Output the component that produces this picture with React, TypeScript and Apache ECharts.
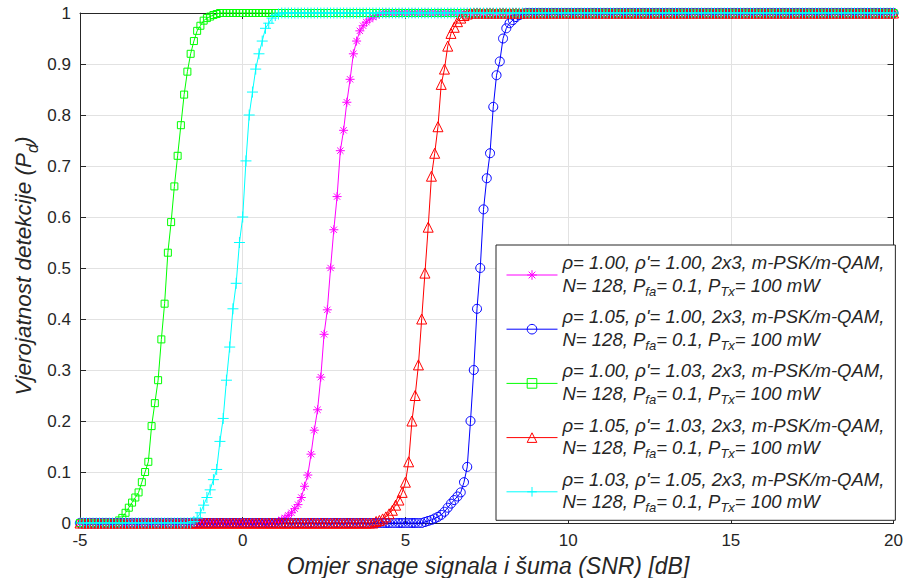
import React, { useEffect, useRef } from "react";
import * as echarts from "echarts";

// SNR sampling grid (dB)
const snrStart = -5;
const snrStep = 0.1;

// Detection probability per curve, one value per 0.1 dB from -5 to 20 dB (rows = 1 dB)
const pdMagenta = [
  0, 0, 0, 0, 0, 0, 0, 0, 0, 0,
  0, 0, 0, 0, 0, 0, 0, 0, 0, 0,
  0, 0, 0, 0, 0, 0, 0, 0, 0, 0,
  0, 0, 0, 0, 0, 0, 0, 0, 0, 0,
  0, 0, 0, 0, 0, 0, 0, 0, 0, 0,
  0, 0, 0, 0, 0, 0, 0, 0, 0, 0,
  0, 0.003, 0.006, 0.01, 0.015, 0.02, 0.028, 0.036, 0.05, 0.072,
  0.094, 0.135, 0.182, 0.222, 0.286, 0.37, 0.418, 0.5, 0.575, 0.64,
  0.73, 0.77, 0.825, 0.87, 0.92, 0.945, 0.965, 0.975, 0.982, 0.988,
  0.992, 0.995, 0.998, 1, 1, 1, 1, 1, 1, 1,
  1, 1, 1, 1, 1, 1, 1, 1, 1, 1,
  1, 1, 1, 1, 1, 1, 1, 1, 1, 1,
  1, 1, 1, 1, 1, 1, 1, 1, 1, 1,
  1, 1, 1, 1, 1, 1, 1, 1, 1, 1,
  1, 1, 1, 1, 1, 1, 1, 1, 1, 1,
  1, 1, 1, 1, 1, 1, 1, 1, 1, 1,
  1, 1, 1, 1, 1, 1, 1, 1, 1, 1,
  1, 1, 1, 1, 1, 1, 1, 1, 1, 1,
  1, 1, 1, 1, 1, 1, 1, 1, 1, 1,
  1, 1, 1, 1, 1, 1, 1, 1, 1, 1,
  1, 1, 1, 1, 1, 1, 1, 1, 1, 1,
  1, 1, 1, 1, 1, 1, 1, 1, 1, 1,
  1, 1, 1, 1, 1, 1, 1, 1, 1, 1,
  1, 1, 1, 1, 1, 1, 1, 1, 1, 1,
  1, 1, 1, 1, 1, 1, 1, 1, 1, 1,
  1,
];

const pdBlue = [
  0, 0, 0, 0, 0, 0, 0, 0, 0, 0,
  0, 0, 0, 0, 0, 0, 0, 0, 0, 0,
  0, 0, 0, 0, 0, 0, 0, 0, 0, 0,
  0, 0, 0, 0, 0, 0, 0, 0, 0, 0,
  0, 0, 0, 0, 0, 0, 0, 0, 0, 0,
  0, 0, 0, 0, 0, 0, 0, 0, 0, 0,
  0, 0, 0, 0, 0, 0, 0, 0, 0, 0,
  0, 0, 0, 0, 0, 0, 0, 0, 0, 0,
  0, 0, 0, 0, 0, 0, 0, 0, 0, 0,
  0, 0, 0, 0, 0, 0, 0, 0, 0, 0,
  0, 0, 0, 0, 0, 0, 0.002, 0.004, 0.006, 0.009,
  0.012, 0.016, 0.022, 0.03, 0.038, 0.045, 0.052, 0.06, 0.08, 0.11,
  0.2, 0.3, 0.42, 0.5, 0.615, 0.676, 0.725, 0.816, 0.878, 0.905,
  0.95, 0.97, 0.98, 0.986, 0.992, 0.996, 0.998, 1, 1, 1,
  1, 1, 1, 1, 1, 1, 1, 1, 1, 1,
  1, 1, 1, 1, 1, 1, 1, 1, 1, 1,
  1, 1, 1, 1, 1, 1, 1, 1, 1, 1,
  1, 1, 1, 1, 1, 1, 1, 1, 1, 1,
  1, 1, 1, 1, 1, 1, 1, 1, 1, 1,
  1, 1, 1, 1, 1, 1, 1, 1, 1, 1,
  1, 1, 1, 1, 1, 1, 1, 1, 1, 1,
  1, 1, 1, 1, 1, 1, 1, 1, 1, 1,
  1, 1, 1, 1, 1, 1, 1, 1, 1, 1,
  1, 1, 1, 1, 1, 1, 1, 1, 1, 1,
  1, 1, 1, 1, 1, 1, 1, 1, 1, 1,
  1,
];

const pdGreen = [
  0, 0, 0, 0, 0, 0, 0, 0, 0, 0,
  0, 0, 0.005, 0.01, 0.02, 0.03, 0.04, 0.05, 0.06, 0.08,
  0.1, 0.12, 0.19, 0.235, 0.28, 0.36, 0.43, 0.53, 0.59, 0.66,
  0.72, 0.78, 0.84, 0.885, 0.92, 0.945, 0.965, 0.975, 0.985, 0.99,
  0.993, 0.996, 0.998, 1, 1, 1, 1, 1, 1, 1,
  1, 1, 1, 1, 1, 1, 1, 1, 1, 1,
  1, 1, 1, 1, 1, 1, 1, 1, 1, 1,
  1, 1, 1, 1, 1, 1, 1, 1, 1, 1,
  1, 1, 1, 1, 1, 1, 1, 1, 1, 1,
  1, 1, 1, 1, 1, 1, 1, 1, 1, 1,
  1, 1, 1, 1, 1, 1, 1, 1, 1, 1,
  1, 1, 1, 1, 1, 1, 1, 1, 1, 1,
  1, 1, 1, 1, 1, 1, 1, 1, 1, 1,
  1, 1, 1, 1, 1, 1, 1, 1, 1, 1,
  1, 1, 1, 1, 1, 1, 1, 1, 1, 1,
  1, 1, 1, 1, 1, 1, 1, 1, 1, 1,
  1, 1, 1, 1, 1, 1, 1, 1, 1, 1,
  1, 1, 1, 1, 1, 1, 1, 1, 1, 1,
  1, 1, 1, 1, 1, 1, 1, 1, 1, 1,
  1, 1, 1, 1, 1, 1, 1, 1, 1, 1,
  1, 1, 1, 1, 1, 1, 1, 1, 1, 1,
  1, 1, 1, 1, 1, 1, 1, 1, 1, 1,
  1, 1, 1, 1, 1, 1, 1, 1, 1, 1,
  1, 1, 1, 1, 1, 1, 1, 1, 1, 1,
  1, 1, 1, 1, 1, 1, 1, 1, 1, 1,
  1,
];

const pdRed = [
  0, 0, 0, 0, 0, 0, 0, 0, 0, 0,
  0, 0, 0, 0, 0, 0, 0, 0, 0, 0,
  0, 0, 0, 0, 0, 0, 0, 0, 0, 0,
  0, 0, 0, 0, 0, 0, 0, 0, 0, 0,
  0, 0, 0, 0, 0, 0, 0, 0, 0, 0,
  0, 0, 0, 0, 0, 0, 0, 0, 0, 0,
  0, 0, 0, 0, 0, 0, 0, 0, 0, 0,
  0, 0, 0, 0, 0, 0, 0, 0, 0, 0,
  0, 0, 0, 0, 0, 0, 0, 0, 0, 0,
  0, 0.003, 0.005, 0.008, 0.012, 0.018, 0.025, 0.035, 0.045, 0.06,
  0.08, 0.12, 0.2, 0.25, 0.31, 0.4, 0.49, 0.58, 0.68, 0.725,
  0.777, 0.86, 0.89, 0.935, 0.96, 0.972, 0.983, 0.99, 0.995, 0.998,
  1, 1, 1, 1, 1, 1, 1, 1, 1, 1,
  1, 1, 1, 1, 1, 1, 1, 1, 1, 1,
  1, 1, 1, 1, 1, 1, 1, 1, 1, 1,
  1, 1, 1, 1, 1, 1, 1, 1, 1, 1,
  1, 1, 1, 1, 1, 1, 1, 1, 1, 1,
  1, 1, 1, 1, 1, 1, 1, 1, 1, 1,
  1, 1, 1, 1, 1, 1, 1, 1, 1, 1,
  1, 1, 1, 1, 1, 1, 1, 1, 1, 1,
  1, 1, 1, 1, 1, 1, 1, 1, 1, 1,
  1, 1, 1, 1, 1, 1, 1, 1, 1, 1,
  1, 1, 1, 1, 1, 1, 1, 1, 1, 1,
  1, 1, 1, 1, 1, 1, 1, 1, 1, 1,
  1, 1, 1, 1, 1, 1, 1, 1, 1, 1,
  1,
];

const pdCyan = [
  0, 0, 0, 0, 0, 0, 0, 0, 0, 0,
  0, 0, 0, 0, 0, 0, 0, 0, 0, 0,
  0, 0, 0, 0, 0, 0, 0, 0, 0, 0,
  0, 0, 0, 0, 0, 0.003, 0.01, 0.02, 0.035, 0.05,
  0.065, 0.085, 0.105, 0.16, 0.205, 0.28, 0.345, 0.42, 0.47, 0.55,
  0.6, 0.71, 0.8, 0.845, 0.89, 0.92, 0.945, 0.97, 0.98, 0.99,
  0.995, 0.998, 1, 1, 1, 1, 1, 1, 1, 1,
  1, 1, 1, 1, 1, 1, 1, 1, 1, 1,
  1, 1, 1, 1, 1, 1, 1, 1, 1, 1,
  1, 1, 1, 1, 1, 1, 1, 1, 1, 1,
  1, 1, 1, 1, 1, 1, 1, 1, 1, 1,
  1, 1, 1, 1, 1, 1, 1, 1, 1, 1,
  1, 1, 1, 1, 1, 1, 1, 1, 1, 1,
  1, 1, 1, 1, 1, 1, 1, 1, 1, 1,
  1, 1, 1, 1, 1, 1, 1, 1, 1, 1,
  1, 1, 1, 1, 1, 1, 1, 1, 1, 1,
  1, 1, 1, 1, 1, 1, 1, 1, 1, 1,
  1, 1, 1, 1, 1, 1, 1, 1, 1, 1,
  1, 1, 1, 1, 1, 1, 1, 1, 1, 1,
  1, 1, 1, 1, 1, 1, 1, 1, 1, 1,
  1, 1, 1, 1, 1, 1, 1, 1, 1, 1,
  1, 1, 1, 1, 1, 1, 1, 1, 1, 1,
  1, 1, 1, 1, 1, 1, 1, 1, 1, 1,
  1, 1, 1, 1, 1, 1, 1, 1, 1, 1,
  1, 1, 1, 1, 1, 1, 1, 1, 1, 1,
  1,
];

const rhoValues = ["1.00", "1.05", "1.00", "1.05", "1.03"];
const rhoPrimeValues = ["1.00", "1.00", "1.03", "1.03", "1.05"];
const seriesValues = [pdMagenta, pdBlue, pdGreen, pdRed, pdCyan];
const seriesColors = ["#ff00ff", "#0000ff", "#00ff00", "#ff0000", "#00ffff"];
const ASTERISK = "path://M0,-1L0,1M-1,0L1,0M-0.7,-0.7L0.7,0.7M-0.7,0.7L0.7,-0.7";
const PLUS = "path://M0,-1L0,1M-1,0L1,0";
const seriesSymbols = [ASTERISK, "circle", "rect", "triangle", PLUS];
const seriesSymbolSizes = [9, 9, 7, 10, 11];

const xMin = -5;
const xMax = 20;
const xInterval = 5;
const yMin = 0;
const yMax = 1;
const yInterval = 0.1;

const xTitle = "Omjer snage signala i šuma (SNR) [dB]";
const FONT = "'Liberation Sans', Arial, Helvetica, sans-serif";
const INK = "#262626";

const seriesNames = rhoValues.map(
  (r, i) => `ρ= ${r}, ρ'= ${rhoPrimeValues[i]}, 2x3, m-PSK/m-QAM, N= 128, Pfa= 0.1, PTx= 100 mW`
);

export default function App() {
  const ref = useRef<HTMLDivElement>(null);

  useEffect(() => {
    document.body.style.margin = "0";
    if (!ref.current) return;
    const chart = echarts.init(ref.current, undefined, { renderer: "svg" });

    const series = seriesValues.map((vals, s) => ({
      type: "line",
      name: seriesNames[s],
      data: vals.map((v, i) => [Number((snrStart + i * snrStep).toFixed(1)), v]),
      symbol: seriesSymbols[s],
      symbolSize: seriesSymbolSizes[s],
      showSymbol: true,
      clip: false,
      lineStyle: { color: seriesColors[s], width: 1 },
      itemStyle: { color: "rgba(0,0,0,0)", borderColor: seriesColors[s], borderWidth: 1 },
      emphasis: { disabled: true },
    }));

    const axisCommon = {
      type: "value",
      axisLine: { show: true, onZero: false, lineStyle: { color: INK, width: 1 } },
      axisTick: { show: true, inside: true, length: 6, lineStyle: { color: INK } },
    };

    chart.setOption({
      animation: false,
      backgroundColor: "#ffffff",
      grid: { left: 80, right: 10, top: 13, bottom: 55, containLabel: false },
      xAxis: [
        {
          ...axisCommon,
          min: xMin,
          max: xMax,
          interval: xInterval,
          position: "bottom",
          axisLabel: { color: INK, fontSize: 17, fontFamily: FONT, margin: 9 },
          splitLine: { show: true, lineStyle: { color: "#e2e2e2", width: 1 } },
        },
        {
          ...axisCommon,
          min: xMin,
          max: xMax,
          interval: xInterval,
          position: "top",
          axisLabel: { show: false },
          splitLine: { show: false },
        },
      ],
      yAxis: [
        {
          ...axisCommon,
          min: yMin,
          max: yMax,
          interval: yInterval,
          position: "left",
          axisLabel: { color: INK, fontSize: 17, fontFamily: FONT, margin: 9 },
          splitLine: { show: true, lineStyle: { color: "#e2e2e2", width: 1 } },
        },
        {
          ...axisCommon,
          min: yMin,
          max: yMax,
          interval: yInterval,
          position: "right",
          axisLabel: { show: false },
          splitLine: { show: false },
        },
      ],
      legend: {
        orient: "vertical",
        left: 496,
        top: 245,
        padding: [8, 11, 6, 10],
        itemGap: 9.7,
        itemWidth: 51,
        itemHeight: 12,
        backgroundColor: "#ffffff",
        borderColor: INK,
        borderWidth: 1,
        selectedMode: false,
        data: seriesNames,
        lineStyle: { width: 1 },
        itemStyle: { borderWidth: 1 },
        formatter: (name: string) => {
          const i = seriesNames.indexOf(name);
          return `{n|ρ= ${rhoValues[i]}, ρ'= ${rhoPrimeValues[i]}, 2x3, m-PSK/m-QAM,}\n{n|N= 128, P}{s|fa}{n|= 0.1, P}{s|Tx}{n|= 100 mW}`;
        },
        textStyle: {
          color: INK,
          fontFamily: FONT,
          fontStyle: "italic",
          fontSize: 18.5,
          rich: {
            n: { color: INK, fontFamily: FONT, fontStyle: "italic", fontSize: 18.5, lineHeight: 20 },
            s: {
              color: INK,
              fontFamily: FONT,
              fontStyle: "italic",
              fontSize: 13,
              lineHeight: 25,
              verticalAlign: "bottom",
            },
          },
        },
      },
      graphic: [
        {
          type: "text",
          x: 488,
          y: 566,
          style: {
            text: xTitle,
            fill: INK,
            font: `italic 23px ${FONT}`,
            textAlign: "center",
            textVerticalAlign: "middle",
          },
        },
        {
          type: "text",
          x: 23,
          y: 266,
          rotation: Math.PI / 2,
          style: {
            text: "{n|Vjerojatnost detekcije (P}{s|d}{n|)}",
            fill: INK,
            textAlign: "center",
            textVerticalAlign: "middle",
            rich: {
              n: { fill: INK, font: `italic 22.5px ${FONT}`, lineHeight: 25 },
              s: { fill: INK, font: `italic 16px ${FONT}`, lineHeight: 34, verticalAlign: "bottom" },
            },
          },
        },
      ],
      series,
    });

    return () => chart.dispose();
  }, []);

  return <div ref={ref} style={{ width: 906, height: 578 }} />;
}
